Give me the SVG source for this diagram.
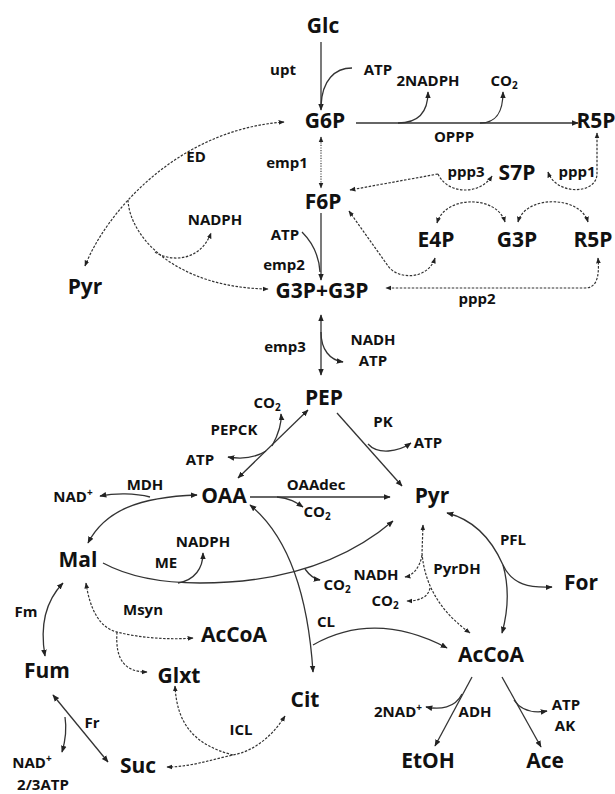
<svg xmlns="http://www.w3.org/2000/svg" width="615" height="794" viewBox="0 0 615 794">
<style>
text{font-family:"Open Sans","Liberation Sans",sans-serif;font-weight:700;fill:#111;text-anchor:middle}
.n{font-size:21px}
.l{font-size:15px}
.s{fill:none;stroke:#333;stroke-width:1.3}
.d{fill:none;stroke:#333;stroke-width:1.2;stroke-dasharray:2.5,1.5}
.f{fill:none;stroke:#444;stroke-width:1.2;stroke-dasharray:1.2,1.4}
.sub{font-size:10px}
</style>
<defs>
<marker id="a" viewBox="0 0 10 10" refX="9" refY="5" markerWidth="7" markerHeight="7" markerUnits="userSpaceOnUse" orient="auto-start-reverse"><path d="M0,1 L10,5 L0,9 z" fill="#222"/></marker>
<marker id="b" viewBox="0 0 10 10" refX="9" refY="5" markerWidth="6" markerHeight="6" markerUnits="userSpaceOnUse" orient="auto-start-reverse"><path d="M0,1 L10,5 L0,9 z" fill="#222"/></marker>
</defs>
<rect width="615" height="794" fill="#fff"/>
<g id="connectors">
<path class="s" d="M321,42 L321,110" marker-end="url(#a)"/>
<path class="s" d="M352,68 C335,68 322,80 321,106"/>
<path class="s" d="M356,123 L578,123" marker-end="url(#a)"/>
<path class="s" d="M398,123 C420,123 428,110 428,92" marker-end="url(#a)"/>
<path class="s" d="M480,123 C498,123 503,110 503,92" marker-end="url(#a)"/>
<path class="f" d="M321,137 L321,188" marker-start="url(#b)" marker-end="url(#b)"/>
<path class="s" d="M321,213 L321,280" marker-end="url(#a)"/>
<path class="s" d="M302,232 C312,242 319,255 320,272"/>
<path class="s" d="M321,315 L321,375" marker-start="url(#a)" marker-end="url(#a)"/>
<path class="s" d="M321,332 C321,350 330,360 343,362" marker-end="url(#a)"/>
<path class="d" d="M85,266 C105,215 175,130 284,122" marker-start="url(#b)" marker-end="url(#b)"/>
<path class="d" d="M128,200 C130,240 180,288 268,289" marker-end="url(#b)"/>
<path class="d" d="M155,252 C170,262 200,262 211,233" marker-end="url(#b)"/>
<path class="d" d="M438,174 L350,190" marker-end="url(#b)"/>
<path class="d" d="M438,174 C448,195 480,195 492,176" marker-end="url(#b)"/>
<path class="d" d="M548,172 C556,195 595,195 597,175 L597,133" marker-start="url(#b)" marker-end="url(#b)"/>
<path class="d" d="M437,223 C445,195 497,195 505,222" marker-start="url(#b)" marker-end="url(#b)"/>
<path class="d" d="M518,222 C525,195 580,195 588,222" marker-start="url(#b)" marker-end="url(#b)"/>
<path class="d" d="M349,211 L388,266 C398,280 428,280 435,258" marker-start="url(#b)" marker-end="url(#b)"/>
<path class="d" d="M598,258 C600,280 595,288 585,288 L386,288" marker-start="url(#b)" marker-end="url(#b)"/>
<path class="s" d="M308,410 L238,478" marker-start="url(#a)" marker-end="url(#a)"/>
<path class="s" d="M272,446 C278,435 282,425 281,414" marker-end="url(#a)"/>
<path class="s" d="M266,451 C255,458 240,459 228,457" marker-end="url(#a)"/>
<path class="s" d="M337,413 L402,486" marker-end="url(#a)"/>
<path class="s" d="M368,444 C378,455 398,452 411,443" marker-end="url(#a)"/>
<path class="s" d="M88,543 C105,510 140,497 197,495" marker-start="url(#a)" marker-end="url(#a)"/>
<path class="s" d="M150,497 C135,493 115,493 100,496" marker-end="url(#a)"/>
<path class="s" d="M250,497 L390,497" marker-end="url(#a)"/>
<path class="s" d="M277,497 C290,498 297,503 303,507" marker-end="url(#a)"/>
<path class="s" d="M103,563 Q140,583 200,583 Q320,583 393,521" marker-end="url(#a)"/>
<path class="s" d="M178,583 C195,580 203,568 203,553" marker-end="url(#a)"/>
<path class="s" d="M305,569 C310,576 314,579 320,580" marker-end="url(#a)"/>
<path class="s" d="M447,513 C475,520 492,540 503,565 C512,585 530,588 552,587" marker-start="url(#a)" marker-end="url(#a)"/>
<path class="s" d="M503,565 C510,590 507,615 502,633" marker-end="url(#a)"/>
<path class="d" d="M423,525 L422,553 C425,590 445,615 470,633" marker-start="url(#b)" marker-end="url(#b)"/>
<path class="d" d="M422,555 C420,568 412,576 405,577" marker-end="url(#b)"/>
<path class="d" d="M430,588 C428,598 418,601 407,601" marker-end="url(#b)"/>
<path class="s" d="M250,505 Q305,550 313,672" marker-start="url(#a)" marker-end="url(#a)"/>
<path class="s" d="M313,645 Q375,610 447,648" marker-end="url(#a)"/>
<path class="s" d="M45,656 Q37,610 63,583" marker-start="url(#a)" marker-end="url(#a)"/>
<path class="d" d="M86,583 C90,610 100,628 117,632 C140,638 170,640 193,638" marker-start="url(#b)" marker-end="url(#b)"/>
<path class="d" d="M117,632 C115,660 125,672 147,672" marker-end="url(#b)"/>
<path class="s" d="M53,695 L108,762" marker-start="url(#a)" marker-end="url(#a)"/>
<path class="s" d="M65,717 C67,730 65,742 62,752" marker-end="url(#a)"/>
<path class="d" d="M285,716 C270,740 250,752 233,755 C210,760 190,767 167,767" marker-start="url(#b)" marker-end="url(#b)"/>
<path class="d" d="M233,755 C195,745 177,725 175,686" marker-end="url(#b)"/>
<path class="s" d="M472,677 L435,746" marker-end="url(#a)"/>
<path class="s" d="M462,694 C455,708 440,710 426,707" marker-end="url(#a)"/>
<path class="s" d="M502,677 L541,747" marker-end="url(#a)"/>
<path class="s" d="M514,700 C522,712 535,713 547,711" marker-end="url(#a)"/>
</g>
<g id="node-Glc"><text class="n" x="323" y="33">Glc</text></g>
<g id="node-G6P"><text class="n" x="325" y="128">G6P</text></g>
<g id="node-R5P-top"><text class="n" x="596" y="128">R5P</text></g>
<g id="node-F6P"><text class="n" x="323" y="209">F6P</text></g>
<g id="node-S7P"><text class="n" x="517" y="180">S7P</text></g>
<g id="node-E4P"><text class="n" x="436" y="247">E4P</text></g>
<g id="node-G3P-right"><text class="n" x="517" y="247">G3P</text></g>
<g id="node-R5P-mid"><text class="n" x="593" y="247">R5P</text></g>
<g id="node-G3P2"><text class="n" x="322" y="298">G3P+G3P</text></g>
<g id="node-Pyr-left"><text class="n" x="85" y="294">Pyr</text></g>
<g id="node-PEP"><text class="n" x="324" y="405">PEP</text></g>
<g id="node-OAA"><text class="n" x="224" y="503">OAA</text></g>
<g id="node-Pyr"><text class="n" x="432" y="503">Pyr</text></g>
<g id="node-Mal"><text class="n" x="78" y="567">Mal</text></g>
<g id="node-For"><text class="n" x="581" y="590">For</text></g>
<g id="node-AcCoA-left"><text class="n" x="234" y="642">AcCoA</text></g>
<g id="node-Glxt"><text class="n" x="179" y="683">Glxt</text></g>
<g id="node-Fum"><text class="n" x="47" y="678">Fum</text></g>
<g id="node-Cit"><text class="n" x="305" y="707">Cit</text></g>
<g id="node-AcCoA"><text class="n" x="491" y="662">AcCoA</text></g>
<g id="node-Suc"><text class="n" x="138" y="773">Suc</text></g>
<g id="node-EtOH"><text class="n" x="428" y="768">EtOH</text></g>
<g id="node-Ace"><text class="n" x="545" y="768">Ace</text></g>
<g id="labels">
<text class="l" x="283" y="75">upt</text>
<text class="l" x="378" y="75">ATP</text>
<text class="l" x="428" y="86">2NADPH</text>
<text class="l" x="504" y="86">CO<tspan class="sub" dy="3">2</tspan></text>
<text class="l" x="454" y="142">OPPP</text>
<text class="l" x="287" y="168">emp1</text>
<text class="l" x="196" y="162">ED</text>
<text class="l" x="466" y="177">ppp3</text>
<text class="l" x="577" y="177">ppp1</text>
<text class="l" x="215" y="225">NADPH</text>
<text class="l" x="285" y="240">ATP</text>
<text class="l" x="284" y="270">emp2</text>
<text class="l" x="477" y="304">ppp2</text>
<text class="l" x="285" y="352">emp3</text>
<text class="l" x="373" y="345">NADH</text>
<text class="l" x="373" y="366">ATP</text>
<text class="l" x="267" y="408">CO<tspan class="sub" dy="3">2</tspan></text>
<text class="l" x="234" y="435">PEPCK</text>
<text class="l" x="200" y="465">ATP</text>
<text class="l" x="383" y="427">PK</text>
<text class="l" x="428" y="448">ATP</text>
<text class="l" x="145" y="490">MDH</text>
<text class="l" x="73" y="502">NAD<tspan class="sub" dy="-6">+</tspan></text>
<text class="l" x="316" y="490">OAAdec</text>
<text class="l" x="317" y="517">CO<tspan class="sub" dy="3">2</tspan></text>
<text class="l" x="203" y="547">NADPH</text>
<text class="l" x="166" y="568">ME</text>
<text class="l" x="513" y="545">PFL</text>
<text class="l" x="337" y="590">CO<tspan class="sub" dy="3">2</tspan></text>
<text class="l" x="376" y="580">NADH</text>
<text class="l" x="457" y="574">PyrDH</text>
<text class="l" x="385" y="606">CO<tspan class="sub" dy="3">2</tspan></text>
<text class="l" x="26" y="617">Fm</text>
<text class="l" x="143" y="615">Msyn</text>
<text class="l" x="326" y="627">CL</text>
<text class="l" x="398" y="717">2NAD<tspan class="sub" dy="-6">+</tspan></text>
<text class="l" x="475" y="717">ADH</text>
<text class="l" x="566" y="710">ATP</text>
<text class="l" x="565" y="731">AK</text>
<text class="l" x="92" y="728">Fr</text>
<text class="l" x="241" y="735">ICL</text>
<text class="l" x="32" y="768">NAD<tspan class="sub" dy="-6">+</tspan></text>
<text class="l" x="43" y="790">2/3ATP</text>
</g>
</svg>
